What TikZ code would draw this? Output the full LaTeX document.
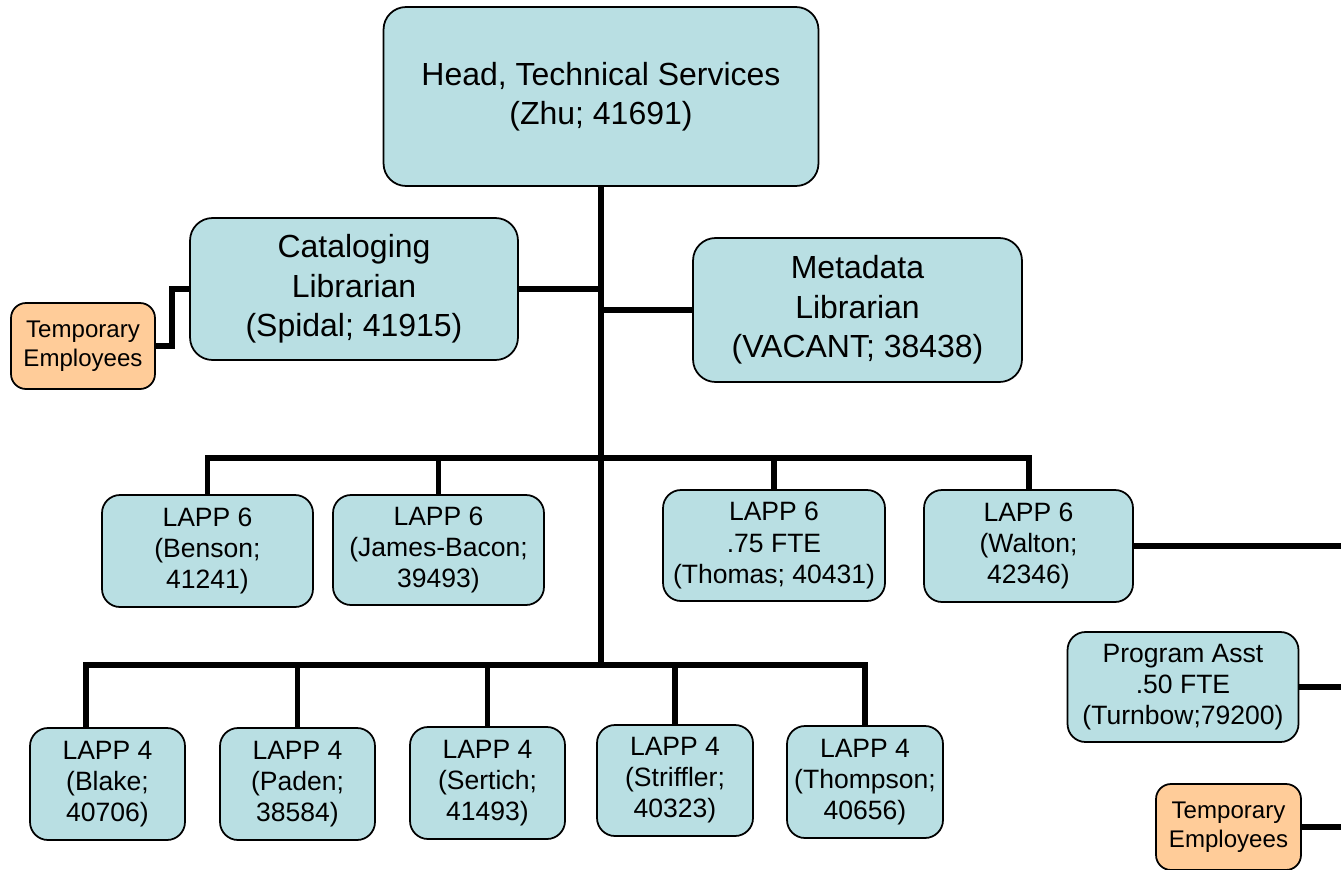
\documentclass[tikz,border=0pt]{standalone}
\usepackage{fontspec}
\setmainfont{Liberation Sans}
\usepackage{tikz}
\usetikzlibrary{positioning}

\definecolor{staffblue}{HTML}{B9DFE3}
\definecolor{temporange}{HTML}{FFCC99}

\begin{document}
\begin{tikzpicture}[x=0.02cm, y=-0.02cm,
    box/.style={draw=black, line width=1pt, fill=staffblue, rounded corners=0.45cm,
      align=center, inner sep=0pt},
    bigbox/.style={box, font=\fontsize{18.2}{22.4}\selectfont},
    lappbox/.style={box, rounded corners=0.36cm, font=\fontsize{15.1}{17.7}\selectfont},
    tempbox/.style={box, fill=temporange, rounded corners=0.3cm,
      font=\fontsize{13.7}{16.5}\selectfont},
    conn/.style={line width=3.4pt}]
      \useasboundingbox (0,0) rectangle (1341,869);

      % top level
      \node[bigbox, minimum width=8.7cm, minimum height=3.58cm] (head) at (601,96.5)
        {Head, Technical Services\\(Zhu; 41691)};
      \node[bigbox, minimum width=6.56cm, minimum height=2.84cm] (catlib) at (354,289)
        {Cataloging\\Librarian\\(Spidal; 41915)};
      \node[bigbox, minimum width=6.58cm, minimum height=2.88cm] (metalib) at (857.5,310)
        {Metadata\\Librarian\\(VACANT; 38438)};
      \node[tempbox, minimum width=2.88cm, minimum height=1.72cm] (tempa) at (83,346)
        {Temporary\\Employees};

      % LAPP 6
      \node[lappbox, minimum width=4.22cm, minimum height=2.24cm] (benson) at (207.5,551)
        {LAPP 6\\(Benson;\\41241)};
      \node[lappbox, minimum width=4.22cm, minimum height=2.2cm] (jamesbacon) at (438.5,550)
        {LAPP 6\\(James-Bacon;\\39493)};
      \node[lappbox, minimum width=4.44cm, minimum height=2.22cm] (thomas) at (774,545.5)
        {LAPP 6\\.75 FTE\\(Thomas; 40431)};
      \node[lappbox, minimum width=4.18cm, minimum height=2.24cm] (walton) at (1028.5,546)
        {LAPP 6\\(Walton;\\42346)};

      % LAPP 4
      \node[lappbox, minimum width=3.1cm, minimum height=2.24cm] (blake) at (107.5,784)
        {LAPP 4\\(Blake;\\40706)};
      \node[lappbox, minimum width=3.1cm, minimum height=2.24cm] (paden) at (297.5,784)
        {LAPP 4\\(Paden;\\38584)};
      \node[lappbox, minimum width=3.1cm, minimum height=2.24cm] (sertich) at (487.5,783)
        {LAPP 4\\(Sertich;\\41493)};
      \node[lappbox, minimum width=3.12cm, minimum height=2.22cm] (striffler) at (675,780.5)
        {LAPP 4\\(Striffler;\\40323)};
      \node[lappbox, minimum width=3.12cm, minimum height=2.24cm] (thompson) at (865,782)
        {LAPP 4\\(Thompson;\\40656)};

      % right side
      \node[lappbox, minimum width=4.62cm, minimum height=2.2cm] (progasst) at (1183,687)
        {Program Asst\\.50 FTE\\(Turnbow;79200)};
      \node[tempbox, minimum width=2.9cm, minimum height=1.72cm] (tempb) at (1228.5,827)
        {Temporary\\Employees};

      \coordinate (trunkend) at (601,665);
      \coordinate (bar6) at (601,458);
      \coordinate (bar4) at (601,665);
      \coordinate (blakedrop) at (86,665);
      \coordinate (jog) at (172,0);
      \coordinate (edge) at (1341,0);

      % connectors
      \draw[conn] (head.south) -- (trunkend);
      \draw[conn] (catlib.east) -- (catlib.east -| trunkend);
      \draw[conn] (metalib.west) -- (metalib.west -| trunkend);
      \draw[conn] (tempa.east) -- (tempa.east -| jog) |- (catlib.west);

      \draw[conn] (benson.north) |- (bar6) -| (walton.north);
      \draw[conn] (jamesbacon.north) -- (jamesbacon.north |- bar6);
      \draw[conn] (thomas.north) -- (thomas.north |- bar6);

      \draw[conn] (blakedrop |- blake.north) -- (blakedrop) -| (thompson.north);
      \draw[conn] (paden.north) -- (paden.north |- bar4);
      \draw[conn] (sertich.north) -- (sertich.north |- bar4);
      \draw[conn] (striffler.north) -- (striffler.north |- bar4);

      \draw[conn] (walton.east) -- (walton.east -| edge);
      \draw[conn] (progasst.east) -- (progasst.east -| edge);
      \draw[conn] (tempb.east) -- (tempb.east -| edge);
    \end{tikzpicture}
\end{document}
